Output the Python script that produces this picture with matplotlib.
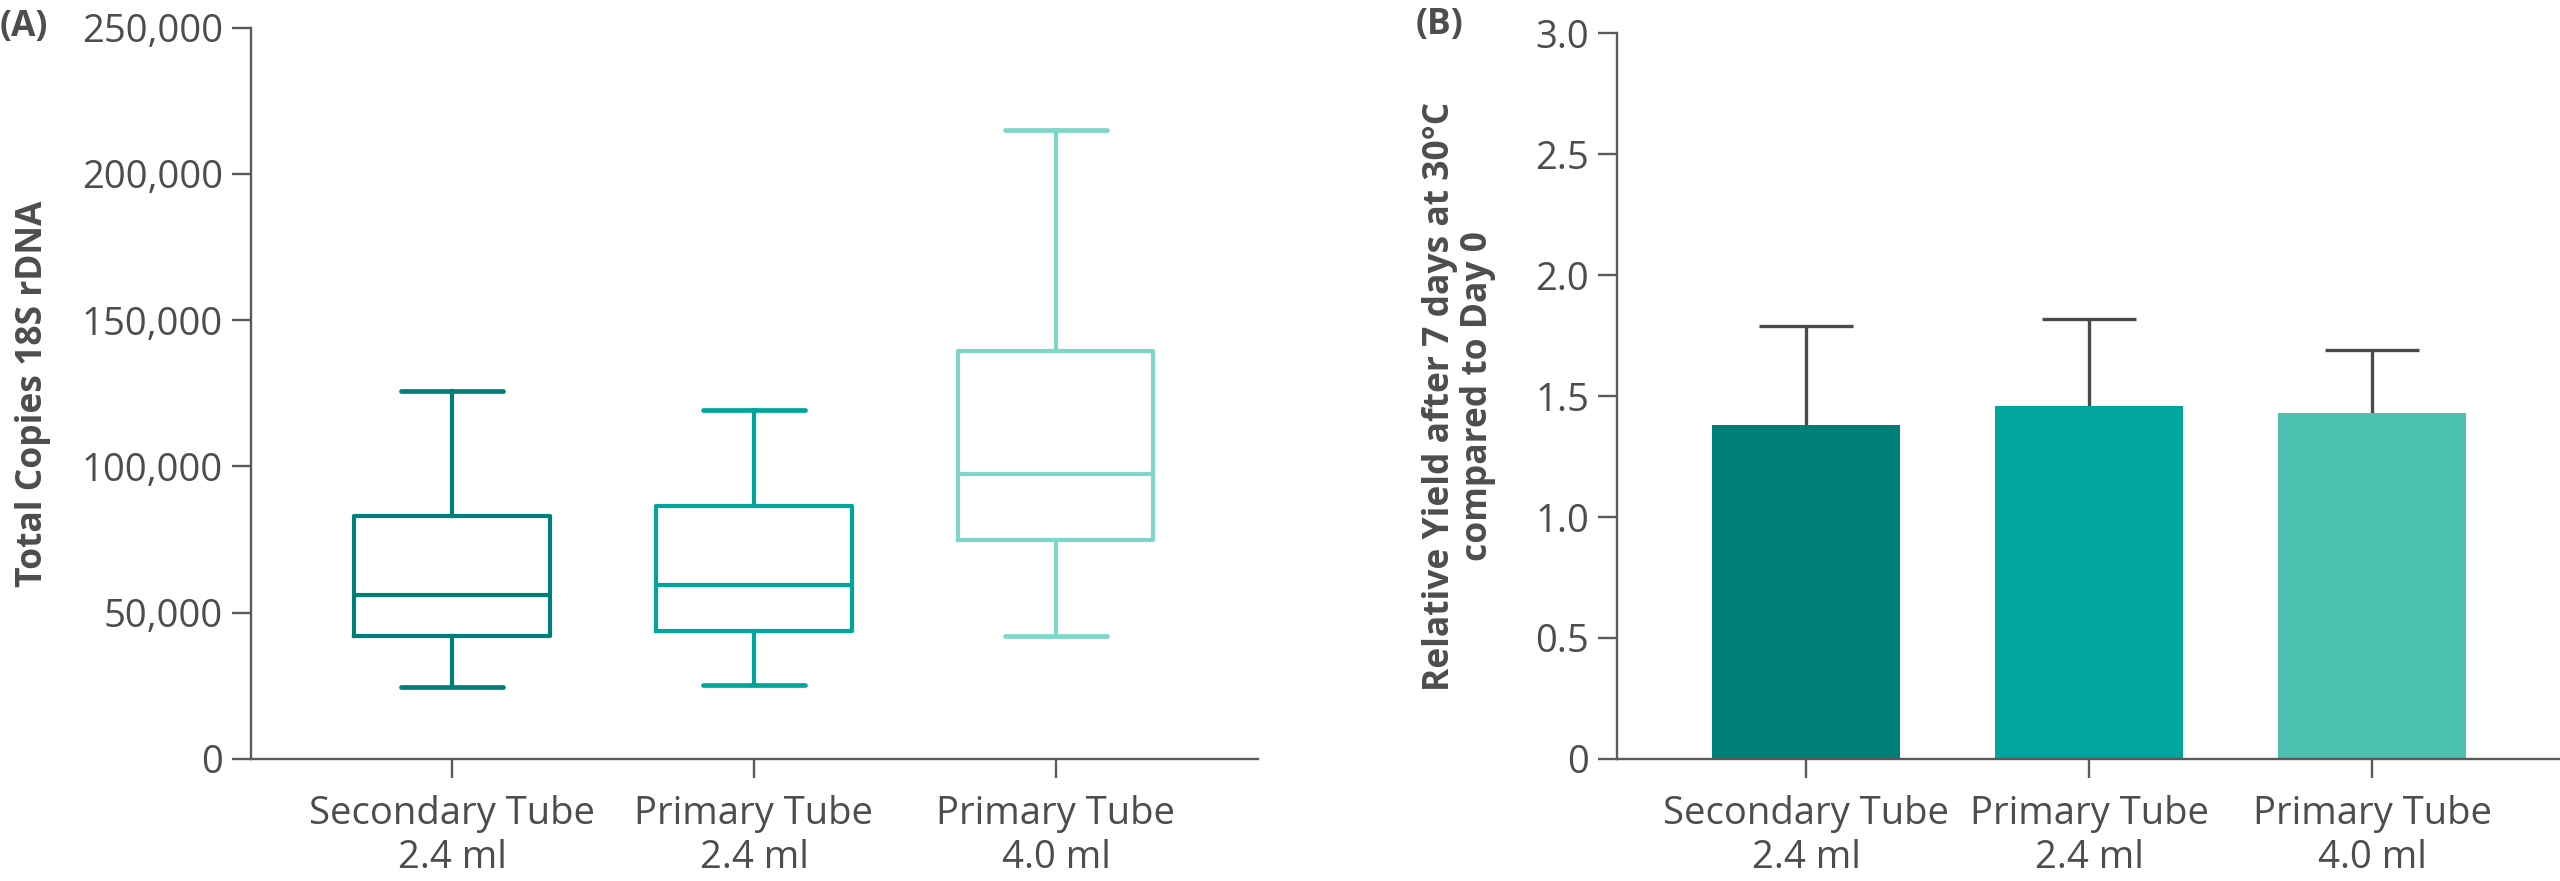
import numpy as np
import matplotlib
matplotlib.use("Agg")
import matplotlib.pyplot as plt
from matplotlib.ticker import FuncFormatter

plt.rcParams['font.family'] = ['Open Sans', 'DejaVu Sans']

# data
tube_labels = ["Secondary Tube\n2.4 ml", "Primary Tube\n2.4 ml", "Primary Tube\n4.0 ml"]
box_whislo = [24600, 25400, 42000]
box_q1 = [42100, 43700, 75000]
box_med = [56100, 59400, 97500]
box_q3 = [83200, 86600, 139500]
box_whishi = [125700, 119400, 215000]
yield_mean = [1.38, 1.46, 1.43]
yield_err = [0.41, 0.36, 0.26]

box_colors = ["#007F78", "#00A59D", "#7FD6C8"]
bar_colors = ["#007F78", "#00A59D", "#4CC0AF"]
txt = "#4D4D4D"
axc = "#5A5A5A"

fig = plt.figure(figsize=(25.6, 8.81), dpi=100)
axA = fig.add_axes([0.098, 0.1385, 0.3934, 0.8301])
axB = fig.add_axes([0.6316, 0.1385, 0.3684, 0.824])

# ---- panel A: boxplot
stats = []
for i in range(3):
    stats.append(dict(whislo=box_whislo[i], q1=box_q1[i], med=box_med[i],
                      q3=box_q3[i], whishi=box_whishi[i], fliers=[]))
pos = np.arange(3)
bp = axA.bxp(stats, positions=pos, widths=0.646, showfliers=False,
             patch_artist=False)
for i in range(3):
    c = box_colors[i]
    bp['boxes'][i].set(color=c, linewidth=3.0)
    bp['medians'][i].set(color=c, linewidth=3.0)
    for w in bp['whiskers'][2*i:2*i+2]:
        w.set(color=c, linewidth=3.0)
    for cp in bp['caps'][2*i:2*i+2]:
        cp.set(color=c, linewidth=3.4, solid_capstyle='round')
        mid = np.mean(cp.get_xdata())
        cp.set_xdata([mid - 0.17, mid + 0.17])

axA.set_xlim(-0.666, 2.669)
axA.set_ylim(0, 250000)
axA.set_yticks(np.arange(0, 250001, 50000))
axA.yaxis.set_major_formatter(FuncFormatter(lambda v, p: f"{int(v):,}"))
axA.set_xticks(pos)
axA.set_xticklabels(tube_labels, linespacing=1.2)
axA.set_ylabel("Total Copies 18S rDNA", fontsize=25.5, fontweight='bold',
               color=txt, labelpad=22)

# ---- panel B: bars
axB.bar(pos, yield_mean, width=0.664, color=bar_colors, zorder=2)
eb = axB.errorbar(pos, yield_mean, yerr=[np.zeros(3), yield_err], fmt='none',
                  ecolor="#4A4A4A", elinewidth=2.4, capsize=34, capthick=2.4,
                  zorder=1)
for cl in eb[1]:
    if np.allclose(cl.get_ydata(), yield_mean):
        cl.remove()
axB.set_xlim(-0.668, 2.664)
axB.set_ylim(0, 3.0)
axB.set_yticks(np.arange(0, 3.01, 0.5))
axB.yaxis.set_major_formatter(FuncFormatter(lambda v, p: "0" if v == 0 else f"{v:.1f}"))
axB.set_xticks(pos)
axB.set_xticklabels(tube_labels, linespacing=1.2)
axB.set_ylabel("Relative Yield after 7 days at 30°C\ncompared to Day 0",
               fontsize=25.5, fontweight='bold', color=txt, labelpad=28,
               linespacing=1.1)

for ax in (axA, axB):
    for s in ('top', 'right'):
        ax.spines[s].set_visible(False)
    for s in ('left', 'bottom'):
        ax.spines[s].set_color(axc)
        ax.spines[s].set_linewidth(1.7)
    ax.tick_params(axis='both', colors=axc, width=1.7, length=14,
                   labelsize=27.5, labelcolor=txt)
    ax.tick_params(axis='x', pad=12)
    ax.tick_params(axis='y', pad=6)

fig.text(0.0, 0.969, "(A)", fontsize=25.5, fontweight='bold', color=txt,
         va='center', ha='left')
fig.text(0.553, 0.972, "(B)", fontsize=25.5, fontweight='bold', color=txt,
         va='center', ha='left')

fig.savefig("out.png", dpi=100)
